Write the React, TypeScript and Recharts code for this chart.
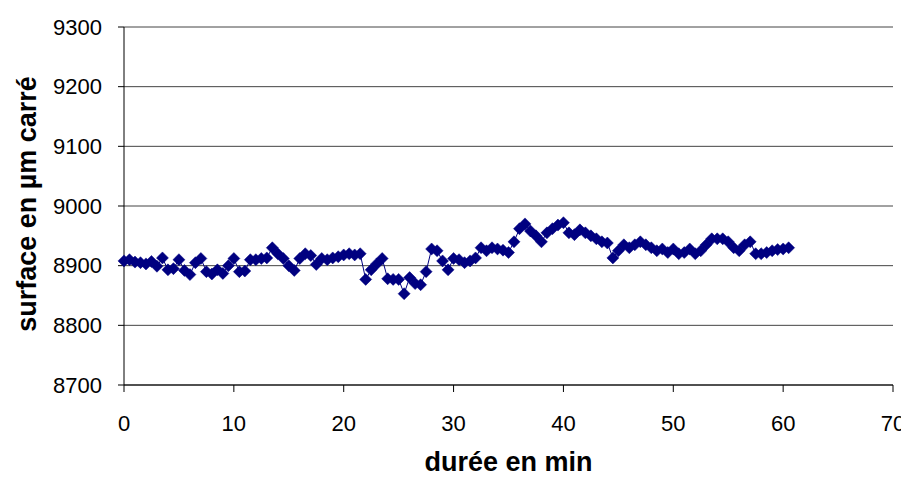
import React from "react";
import { LineChart, Line, XAxis, YAxis, CartesianGrid } from "recharts";

const times = [
  0, 0.5, 1, 1.5, 2, 2.5, 3, 3.5, 4, 4.5, 5, 5.5, 6, 6.5, 7, 7.5, 8, 8.5, 9, 9.5, 10,
  10.5, 11, 11.5, 12, 12.5, 13, 13.5, 14, 14.5, 15, 15.5, 16, 16.5, 17, 17.5, 18, 18.5, 19, 19.5, 20,
  20.5, 21, 21.5, 22, 22.5, 23, 23.5, 24, 24.5, 25, 25.5, 26, 26.5, 27, 27.5, 28, 28.5, 29, 29.5, 30,
  30.5, 31, 31.5, 32, 32.5, 33, 33.5, 34, 34.5, 35, 35.5, 36, 36.5, 37, 37.5, 38, 38.5, 39, 39.5, 40,
  40.5, 41, 41.5, 42, 42.5, 43, 43.5, 44, 44.5, 45, 45.5, 46, 46.5, 47, 47.5, 48, 48.5, 49, 49.5, 50,
  50.5, 51, 51.5, 52, 52.5, 53, 53.5, 54, 54.5, 55, 55.5, 56, 56.5, 57, 57.5, 58, 58.5, 59, 59.5, 60, 60.5,
];

const surface = [
  8908, 8910, 8906, 8905, 8903, 8907, 8899, 8913, 8893, 8895, 8910, 8892, 8885, 8905, 8912, 8890, 8886, 8893, 8887, 8900, 8912,
  8890, 8891, 8910, 8910, 8912, 8913, 8930, 8920, 8912, 8900, 8892, 8912, 8920, 8917, 8902, 8912, 8910, 8913, 8915, 8918,
  8920, 8918, 8920, 8877, 8893, 8903, 8912, 8878, 8877, 8877, 8853, 8880, 8870, 8868, 8890, 8928, 8925, 8908, 8893, 8912,
  8910, 8905, 8908, 8913, 8930, 8925, 8930, 8928, 8926, 8922, 8940, 8962, 8970, 8958, 8950, 8940, 8955, 8962, 8968, 8972,
  8955, 8952, 8960, 8955, 8950, 8945, 8940, 8938, 8913, 8925, 8935, 8930, 8935, 8940, 8935, 8930, 8925, 8928, 8922, 8928,
  8920, 8922, 8928, 8920, 8925, 8935, 8945, 8945, 8945, 8940, 8930, 8925, 8935, 8940, 8920, 8920, 8922, 8925, 8927, 8928, 8930,
];

const xTicks = [0, 10, 20, 30, 40, 50, 60, 70];
const yTicks = [8700, 8800, 8900, 9000, 9100, 9200, 9300];

const data = times.map((t, i) => ({ t, v: surface[i] }));

const NAVY = "#000080";
const FONT = "'Liberation Sans', Arial, sans-serif";

const Diamond = (props: any) => {
  const { cx, cy } = props;
  if (cx == null || cy == null) return null;
  const r = 6;
  return (
    <path
      d={`M${cx},${cy - r}L${cx + r},${cy}L${cx},${cy + r}L${cx - r},${cy}Z`}
      fill={NAVY}
      stroke={NAVY}
      strokeWidth={0.5}
    />
  );
};

export default function App() {
  return (
    <div style={{ position: "relative", width: 901, height: 471, fontFamily: FONT, background: "#fff" }}>
      <LineChart
        width={901}
        height={471}
        data={data}
        margin={{ top: 19, right: 16, bottom: 64, left: 56 }}
      >
        <CartesianGrid horizontal={true} vertical={false} stroke="#444" strokeWidth={1} />
        <XAxis
          dataKey="t"
          type="number"
          domain={[0, 70]}
          ticks={xTicks}
          height={30}
          tickSize={7}
          tickMargin={23}
          stroke="#000"
          tick={{ fill: "#000", fontSize: 22, fontFamily: FONT }}
          interval={0}
        />
        <YAxis
          type="number"
          domain={[8700, 9300]}
          ticks={yTicks}
          width={60}
          tickSize={6}
          tickMargin={16}
          stroke="#000"
          tick={{ fill: "#000", fontSize: 22, fontFamily: FONT }}
          interval={0}
        />
        <Line
          type="linear"
          dataKey="v"
          stroke={NAVY}
          strokeWidth={1}
          dot={<Diamond />}
          activeDot={false}
          isAnimationActive={false}
        />
      </LineChart>
      <div
        style={{
          position: "absolute",
          left: 0,
          width: 901,
          top: 440,
          height: 28,
          textAlign: "center",
          fontWeight: "bold",
          fontSize: 27,
          paddingLeft: 100,
          boxSizing: "border-box",
          lineHeight: "28px",
        }}
      >
        durée en min
      </div>
      <div
        style={{
          position: "absolute",
          left: 19,
          top: 196,
          width: 0,
          height: 0,
        }}
      >
        <div
          style={{
            position: "absolute",
            transform: "translate(-50%, -50%) rotate(-90deg)",
            whiteSpace: "nowrap",
            fontWeight: "bold",
            fontSize: 27,
            lineHeight: "30px",
          }}
        >
          surface en µm carré
        </div>
      </div>
    </div>
  );
}
